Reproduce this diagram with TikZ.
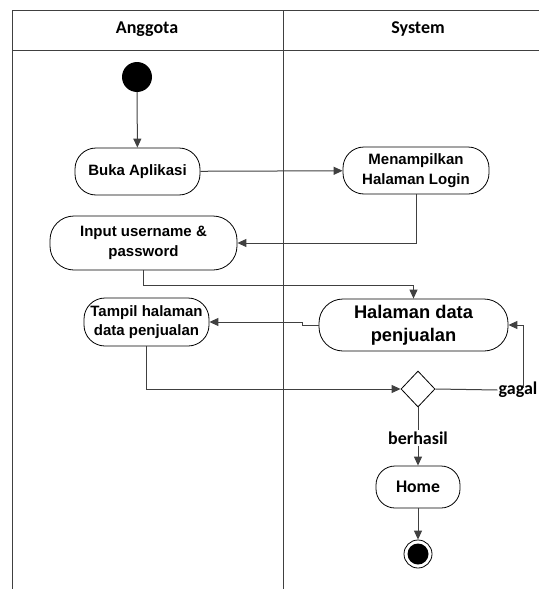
\documentclass[tikz,border=0pt]{standalone}
\usepackage{fontspec}
\setmainfont{Liberation Sans}
\newfontfamily\calibri{Carlito}
\usepackage{tikz}
\usetikzlibrary{arrows.meta,shapes.geometric,positioning}
\definecolor{garis}{RGB}{64,64,64}
\tikzstyle{line}=[draw,garis,line width=1pt]
\tikzstyle{arrow}=[line,-{Triangle[length=9pt,width=8pt]}]
\tikzstyle{aksi}=[draw,black,line width=0.8pt,rectangle,rounded corners=21pt,align=center,inner sep=0pt,font=\fontsize{15}{19.5}\selectfont\bfseries]
\tikzstyle{teks}=[inner sep=1pt,font=\fontsize{18}{20}\selectfont\calibri\bfseries]

\begin{document}
\begin{tikzpicture}[x=1pt,y=-1pt]
\useasboundingbox (0,0) rectangle (539,589);
% swimlane
\draw[line,line width=0.8pt] (12,10)--(539,10);
\draw[line] (12,50)--(539,50);
\draw[line,line width=0.8pt] (12,10)--(12,589);
\draw[line,line width=0.8pt] (283,10)--(283,589);
\node[teks](anggota)at (147,29){Anggota};
\node[teks](system)at (418,29){System};
% aktivitas
\node[circle,fill=black,minimum size=30pt,inner sep=0pt](mulai)at (137,77){};
\node[aksi,minimum width=125pt,minimum height=47pt](buka)at (137.5,171.5){Buka Aplikasi};
\node[aksi,minimum width=146pt,minimum height=47pt](login)at (416,170.5){Menampilkan\\Halaman Login};
\node[aksi,minimum width=187pt,minimum height=54pt,rounded corners=24pt](input)at (143.5,243){Input username \&\\password};
\node[aksi,minimum width=189pt,minimum height=52pt,rounded corners=24pt,font=\fontsize{18.3}{23}\selectfont\bfseries](halaman)at (413.5,325){Halaman data\\penjualan};
\node[aksi,minimum width=125pt,minimum height=48pt](tampil)at (146.5,322){Tampil halaman\\data penjualan};
\node[draw,black,line width=0.8pt,diamond,minimum width=34pt,minimum height=36pt,inner sep=0pt](cek)at (418,389){};
\node[teks](gagal)at (518,390){gagal};
\node[teks](berhasil)at (418,438){berhasil};
\node[aksi,minimum width=84pt,minimum height=42pt,rounded corners=19pt,font=\fontsize{17.7}{20}\selectfont\calibri\bfseries](home)at (418,487){Home};
\node[circle,draw,black,line width=0.8pt,minimum size=28pt,inner sep=0pt](selesai)at (418,554){};
\node[circle,fill=black,minimum size=21pt,inner sep=0pt](selesaiisi)at (selesai){};
% alur
\draw[arrow] (mulai)--(buka);
\draw[arrow] (buka)--(login);
\draw[arrow] (login.south)|-(input.east);
\draw[arrow] (input.south)--++(0,15)-|(halaman.north);
\draw[arrow] (halaman.west)--++(-16,0)|-(tampil.east);
\draw[arrow] (tampil.south)|-(cek.west);
\draw[line] (cek.east)--(gagal.west);
\draw[arrow] ([xshift=5pt,yshift=-7pt]gagal.north)|-(halaman.east);
\draw[line] (cek.south)--(berhasil.north);
\draw[arrow] (berhasil.south)--(home.north);
\draw[arrow] (home.south)--(selesai.north);
\end{tikzpicture}
\end{document}
